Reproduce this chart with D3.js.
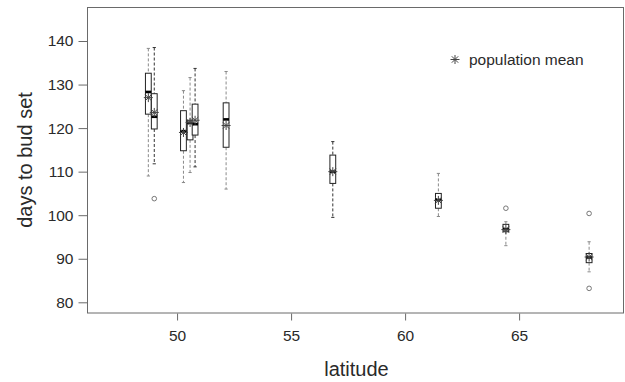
<!DOCTYPE html>
<html>
<head>
<meta charset="utf-8">
<script src="https://cdn.jsdelivr.net/npm/d3@7"></script>
<style>
  body { margin: 0; background: #fff; }
  svg { display: block; font-family: 'Liberation Sans', Arial, sans-serif; }
</style>
</head>
<body>
<svg id="chart" width="625" height="382"></svg>
<script>
// population summaries (days to bud set) by latitude
const latitude    = [48.74, 49.0, 50.28, 50.57, 50.79, 52.15, 56.83, 61.46, 64.42, 68.07]
const whiskerLow  = [109.0, 111.8, 107.5, 109.8, 111.1, 106.0, 99.5, 99.7, 93.0, 87.0]
const q1          = [123.2, 119.8, 114.8, 117.3, 118.4, 115.6, 107.3, 101.6, 96.2, 89.1]
const median      = [128.3, 122.6, 119.3, 121.2, 120.9, 122.0, 110.0, 103.5, 96.8, 90.3]
const q3          = [132.6, 127.9, 124.0, 121.8, 125.5, 125.8, 113.8, 105.0, 97.9, 91.2]
const whiskerHigh = [138.3, 138.5, 128.6, 131.6, 133.7, 133.0, 116.9, 109.6, 98.5, 93.9]
const popMean     = [127.0, 123.6, 119.0, 121.3, 121.8, 120.6, 110.0, 103.4, 96.7, 90.4]
const outliers    = [[], [103.8], [], [], [], [], [], [], [101.6], [100.4, 83.2]]

const yTicks = [80, 90, 100, 110, 120, 130, 140]
const xTicks = [50, 55, 60, 65]

const margin = { top: 7, right: 1, bottom: 69, left: 87 }
const width = 625, height = 382

const svg = d3.select('#chart')

const x = d3.scaleLinear()
  .domain([46.05, 69.6])
  .range([margin.left, width - margin.right])

const y = d3.scaleLinear()
  .domain([80, 140])
  .range([302.3, 41])

const frameColor = '#6a6a6a'
const textColor = '#2a2a2a'

// frame
svg.append('rect')
  .attr('x', margin.left + 0.5)
  .attr('y', margin.top + 0.5)
  .attr('width', width - margin.right - margin.left - 1)
  .attr('height', height - margin.bottom - margin.top - 0.5)
  .attr('fill', 'none')
  .attr('stroke', frameColor)
  .attr('stroke-width', 1)

// axes
const yAxis = d3.axisLeft(y).tickValues(yTicks).tickSize(9).tickPadding(5)
const gy = svg.append('g')
  .attr('transform', `translate(${margin.left + 0.5},0)`)
  .call(yAxis)
gy.select('.domain').remove()

const xAxis = d3.axisBottom(x).tickValues(xTicks).tickSize(7).tickPadding(9)
const gx = svg.append('g')
  .attr('transform', `translate(0,${height - margin.bottom + 0.5})`)
  .call(xAxis)
gx.select('.domain').remove()

svg.selectAll('.tick line').attr('stroke', frameColor)
svg.selectAll('.tick text')
  .attr('fill', textColor)
  .style('font-size', '15.5px')
  .style('font-family', "'Liberation Sans', Arial, sans-serif")

// axis titles
svg.append('text')
  .attr('x', (margin.left + width - margin.right) / 2 + 1)
  .attr('y', 376)
  .attr('text-anchor', 'middle')
  .attr('fill', textColor)
  .style('font-size', '20px')
  .text('latitude')

svg.append('text')
  .attr('transform', `translate(32,160) rotate(-90)`)
  .attr('text-anchor', 'middle')
  .attr('fill', textColor)
  .style('font-size', '20px')
  .text('days to bud set')

// boxplots
const boxHalf = 2.9
const capHalf = 1.6
const groups = d3.range(latitude.length)
const whiskerColor = (i) => (i === 4 || i === 6 || i === 1) ? '#333' : '#8a8a8a'

const box = svg.append('g').selectAll('g')
  .data(groups)
  .join('g')

box.append('line')
  .attr('x1', (i) => x(latitude[i])).attr('x2', (i) => x(latitude[i]))
  .attr('y1', (i) => y(whiskerHigh[i])).attr('y2', (i) => y(q3[i]))
  .attr('stroke', whiskerColor).attr('stroke-dasharray', '3,2')

box.append('line')
  .attr('x1', (i) => x(latitude[i])).attr('x2', (i) => x(latitude[i]))
  .attr('y1', (i) => y(q1[i])).attr('y2', (i) => y(whiskerLow[i]))
  .attr('stroke', whiskerColor).attr('stroke-dasharray', '3,2')

box.selectAll('.cap')
  .data((i) => [whiskerLow[i], whiskerHigh[i]].map((v) => ({ i, v })))
  .join('line')
  .attr('class', 'cap')
  .attr('x1', (d) => x(latitude[d.i]) - capHalf)
  .attr('x2', (d) => x(latitude[d.i]) + capHalf)
  .attr('y1', (d) => y(d.v)).attr('y2', (d) => y(d.v))
  .attr('stroke', (d) => whiskerColor(d.i))

box.append('rect')
  .attr('x', (i) => x(latitude[i]) - boxHalf)
  .attr('y', (i) => y(q3[i]))
  .attr('width', boxHalf * 2)
  .attr('height', (i) => y(q1[i]) - y(q3[i]))
  .attr('fill', '#fff')
  .attr('stroke', '#222')
  .attr('stroke-width', 1)

box.append('line')
  .attr('x1', (i) => x(latitude[i]) - boxHalf)
  .attr('x2', (i) => x(latitude[i]) + boxHalf)
  .attr('y1', (i) => y(median[i])).attr('y2', (i) => y(median[i]))
  .attr('stroke', '#000').attr('stroke-width', 2.6)

box.selectAll('.outlier')
  .data((i) => outliers[i].map((v) => ({ i, v })))
  .join('circle')
  .attr('class', 'outlier')
  .attr('cx', (d) => x(latitude[d.i]))
  .attr('cy', (d) => y(d.v))
  .attr('r', 2.3)
  .attr('fill', 'none')
  .attr('stroke', '#777')

// asterisk symbol like R pch 8
function star(g, cx, cy, r, color) {
  const s = g.append('g').attr('transform', `translate(${cx},${cy})`)
    .attr('stroke', color).attr('stroke-width', 1)
  const d = r * Math.SQRT1_2
  s.append('line').attr('x1', -r).attr('x2', r).attr('y1', 0).attr('y2', 0)
  s.append('line').attr('x1', 0).attr('x2', 0).attr('y1', -r).attr('y2', r)
  s.append('line').attr('x1', -d).attr('x2', d).attr('y1', -d).attr('y2', d)
  s.append('line').attr('x1', -d).attr('x2', d).attr('y1', d).attr('y2', -d)
}

groups.forEach((i) => star(svg, x(latitude[i]), y(popMean[i]), 4.5, '#444'))

// legend
star(svg, 455, 59.5, 4.5, '#444')
svg.append('text')
  .attr('x', 469)
  .attr('y', 64.5)
  .attr('fill', textColor)
  .style('font-size', '15.5px')
  .text('population mean')
</script>
</body>
</html>
